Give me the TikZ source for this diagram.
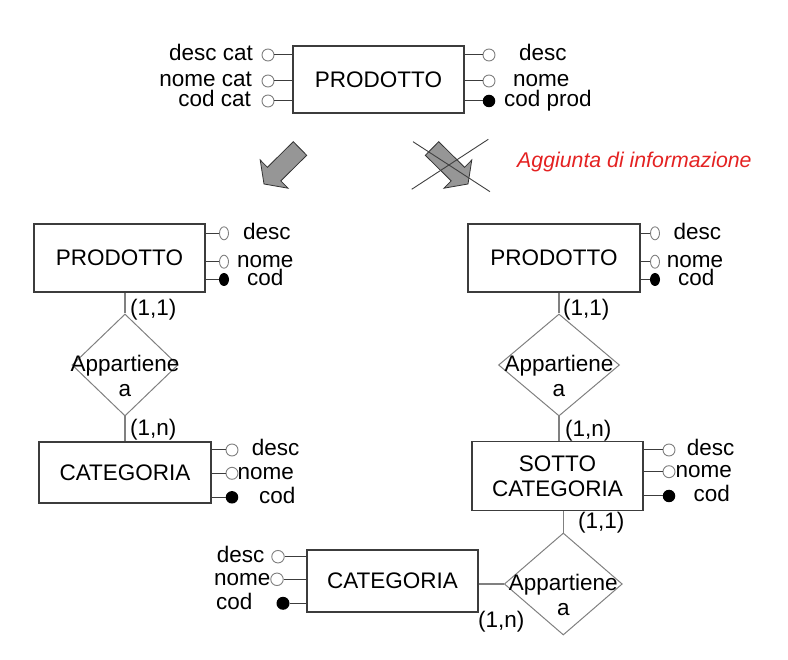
\documentclass[tikz,border=0pt]{standalone}
\usepackage{fontspec}
\setmainfont{Liberation Sans}
\usetikzlibrary{shapes.geometric,positioning}

\definecolor{linegray}{RGB}{128,128,128}
\definecolor{boxgray}{RGB}{60,60,60}
\definecolor{arrowgray}{RGB}{150,150,150}
\definecolor{notered}{RGB}{228,34,34}

\newcommand{\erfont}{\fontsize{22.5}{25}\selectfont}
\newcommand{\notefont}{\fontsize{21.3}{24}\selectfont\itshape}

\tikzset{
    entity/.style={draw=boxgray, line width=1.1pt, minimum width=171pt, minimum height=67pt, inner sep=0pt, align=center},
    relship/.style={diamond, draw=linegray, line width=1pt, inner sep=0pt},
    reltext/.style={inner sep=0pt, align=center},
    attr/.style={circle, draw=linegray, fill=white, line width=0.9pt, minimum size=12pt, inner sep=0pt},
    keyattr/.style={circle, fill=black, minimum size=12.5pt, inner sep=0pt},
    thinattr/.style={ellipse, draw=linegray, fill=white, line width=0.9pt, minimum width=9pt, minimum height=13pt, inner sep=0pt},
    thinkey/.style={ellipse, fill=black, minimum width=10pt, minimum height=13pt, inner sep=0pt},
    attrlbl/.style={inner sep=0pt, text height=14pt, text depth=2.5pt},
    card/.style={inner sep=0pt, anchor=west, text height=16pt, text depth=5pt},
    link/.style={draw=boxgray, line width=1pt},
    rellink/.style={draw=linegray, line width=1.2pt},
    bigarrow/.style={fill=arrowgray, draw=black!80, line width=0.8pt, line join=miter},
    strike/.style={draw=black!75, line width=0.9pt}
}

\begin{document}
\begin{tikzpicture}[x=1pt, y=-1pt, font=\erfont]
    \useasboundingbox (0,0) rectangle (788,660);

    % schema di partenza
    \node[entity] (prodTop) at (378.5,79.5) {PRODOTTO};

    \node[attr] (tA1) at (268,55) {};
    \node[attr] (tA2) at (268,81) {};
    \node[attr] (tA3) at (268,101) {};
    \node[attrlbl, anchor=east] (tL1) at (253,55) {desc cat};
    \node[attrlbl, anchor=east] (tL2) at (252,81) {nome cat};
    \node[attrlbl, anchor=east] (tL3) at (251,101) {cod cat};
    \draw[link] (tA1) -- (tA1 -| prodTop.west);
    \draw[link] (tA2) -- (tA2 -| prodTop.west);
    \draw[link] (tA3) -- (tA3 -| prodTop.west);

    \node[attr] (tB1) at (489,55) {};
    \node[attr] (tB2) at (489,81) {};
    \node[keyattr] (tB3) at (489,101) {};
    \node[attrlbl, anchor=west] (tR1) at (519,55) {desc};
    \node[attrlbl, anchor=west] (tR2) at (513,81) {nome};
    \node[attrlbl, anchor=west] (tR3) at (504,101) {cod prod};
    \draw[link] (tB1) -- (tB1 -| prodTop.east);
    \draw[link] (tB2) -- (tB2 -| prodTop.east);
    \draw[link] (tB3) -- (tB3 -| prodTop.east);

    % frecce
    \draw[bigarrow] (293.3,141.7) -- (306.7,155.3) -- (280.8,180.9) -- (288,188.2)
        -- (264,184) -- (260.2,160) -- (267.4,167.3) -- cycle;
    \draw[bigarrow] (438.7,141.7) -- (425.3,155.3) -- (451.2,180.9) -- (444,188.2)
        -- (468,184) -- (471.8,160) -- (464.6,167.3) -- cycle;
    \draw[strike] (413,141.7) -- (490,191.7);
    \draw[strike] (411.7,189.3) -- (488.3,139.3);
    \node[inner sep=0pt, anchor=west, text=notered, font=\notefont] (note) at (517,162) {Aggiunta di informazione};

    % soluzione a sinistra
    \node[entity, minimum width=171pt, minimum height=68pt] (prodL) at (119.5,258) {PRODOTTO};
    \node[thinattr] (lA1) at (224,233.3) {};
    \node[thinattr] (lA2) at (224,261.7) {};
    \node[thinkey] (lA3) at (224,279.5) {};
    \node[attrlbl, anchor=west] (lL1) at (243,233.3) {desc};
    \node[attrlbl, anchor=west] (lL2) at (237,261.7) {nome};
    \node[attrlbl, anchor=west] (lL3) at (247,279.5) {cod};
    \draw[link] (lA1) -- (lA1 -| prodL.east);
    \draw[link] (lA2) -- (lA2 -| prodL.east);
    \draw[link] (lA3) -- (lA3 -| prodL.east);

    \node[relship, minimum width=106pt, minimum height=102pt] (rel1) at (125,365) {};
    \node[reltext] (rel1txt) at ([yshift=-11pt]rel1.center) {Appartiene\\a};

    \node[entity, minimum width=172pt, minimum height=61pt] (catL) at (125,472.5) {CATEGORIA};
    \node[attr] (cA1) at (232,450) {};
    \node[attr] (cA2) at (232,473.3) {};
    \node[keyattr] (cA3) at (232,497.3) {};
    \node[attrlbl, anchor=west] (cL1) at (251.7,450) {desc};
    \node[attrlbl, anchor=west] (cL2) at (237.5,473.3) {nome};
    \node[attrlbl, anchor=west] (cL3) at (259,497.3) {cod};
    \draw[link] (cA1) -- (cA1 -| catL.east);
    \draw[link] (cA2) -- (cA2 -| catL.east);
    \draw[link] (cA3) -- (cA3 -| catL.east);

    \draw[rellink] (rel1.north) -- (rel1.north |- prodL.south);
    \draw[rellink] (rel1.south) -- (rel1.south |- catL.north);
    \node[card] (k1) at (130,310) {(1,1)};
    \node[card] (k2) at (130,430) {(1,n)};

    % soluzione a destra
    \node[entity, minimum width=172pt, minimum height=68pt] (prodR) at (554,258) {PRODOTTO};
    \node[thinattr] (rA1) at (655,233.3) {};
    \node[thinattr] (rA2) at (655,261.7) {};
    \node[thinkey] (rA3) at (655,279.5) {};
    \node[attrlbl, anchor=west] (rL1) at (673.3,233.3) {desc};
    \node[attrlbl, anchor=west] (rL2) at (666.7,261.7) {nome};
    \node[attrlbl, anchor=west] (rL3) at (678,279.5) {cod};
    \draw[link] (rA1) -- (rA1 -| prodR.east);
    \draw[link] (rA2) -- (rA2 -| prodR.east);
    \draw[link] (rA3) -- (rA3 -| prodR.east);

    \node[relship, minimum width=121pt, minimum height=102pt] (rel2) at (559,365) {};
    \node[reltext] (rel2txt) at ([yshift=-11pt]rel2.center) {Appartiene\\a};

    \node[entity, minimum width=171pt, minimum height=69pt] (sotto) at (557.5,476) {SOTTO\\CATEGORIA};
    \node[attr] (sA1) at (669,450) {};
    \node[attr] (sA2) at (669,471.7) {};
    \node[keyattr] (sA3) at (669,496) {};
    \node[attrlbl, anchor=west] (sL1) at (686.7,450) {desc};
    \node[attrlbl, anchor=west] (sL2) at (675.5,471.7) {nome};
    \node[attrlbl, anchor=west] (sL3) at (693.3,496) {cod};
    \draw[link] (sA1) -- (sA1 -| sotto.east);
    \draw[link] (sA2) -- (sA2 -| sotto.east);
    \draw[link] (sA3) -- (sA3 -| sotto.east);

    \draw[rellink] (rel2.north) -- (rel2.north |- prodR.south);
    \draw[rellink] (rel2.south) -- (rel2.south |- sotto.north);
    \node[card] (k3) at (563,310) {(1,1)};
    \node[card] (k4) at (565,431) {(1,n)};

    \node[relship, minimum width=118pt, minimum height=102pt] (rel3) at (563.3,584) {};
    \node[reltext] (rel3txt) at ([yshift=-11pt]rel3.center) {Appartiene\\a};

    \node[entity, minimum width=171pt, minimum height=62pt] (catB) at (392.5,581) {CATEGORIA};
    \node[attr, minimum size=12.5pt] (bA1) at (278,556.7) {};
    \node[attr, minimum size=12.5pt] (bA2) at (277,579.3) {};
    \node[keyattr, minimum size=13pt] (bA3) at (283,603.3) {};
    \node[attrlbl, anchor=west] (bL1) at (216.7,556.7) {desc};
    \node[attrlbl, anchor=west] (bL2) at (214,579.3) {nome};
    \node[attrlbl, anchor=west] (bL3) at (216,603.3) {cod};
    \draw[link] (bA1) -- (bA1 -| catB.west);
    \draw[link] (bA2) -- (bA2 -| catB.west);
    \draw[link] (bA3) -- (bA3 -| catB.west);

    \draw[rellink] (rel3.north) -- (rel3.north |- sotto.south);
    \draw[rellink] (rel3.west) -- (rel3.west -| catB.east);
    \node[card] (k5) at (578,523) {(1,1)};
    \node[card] (k6) at (478,621.7) {(1,n)};
\end{tikzpicture}
\end{document}
